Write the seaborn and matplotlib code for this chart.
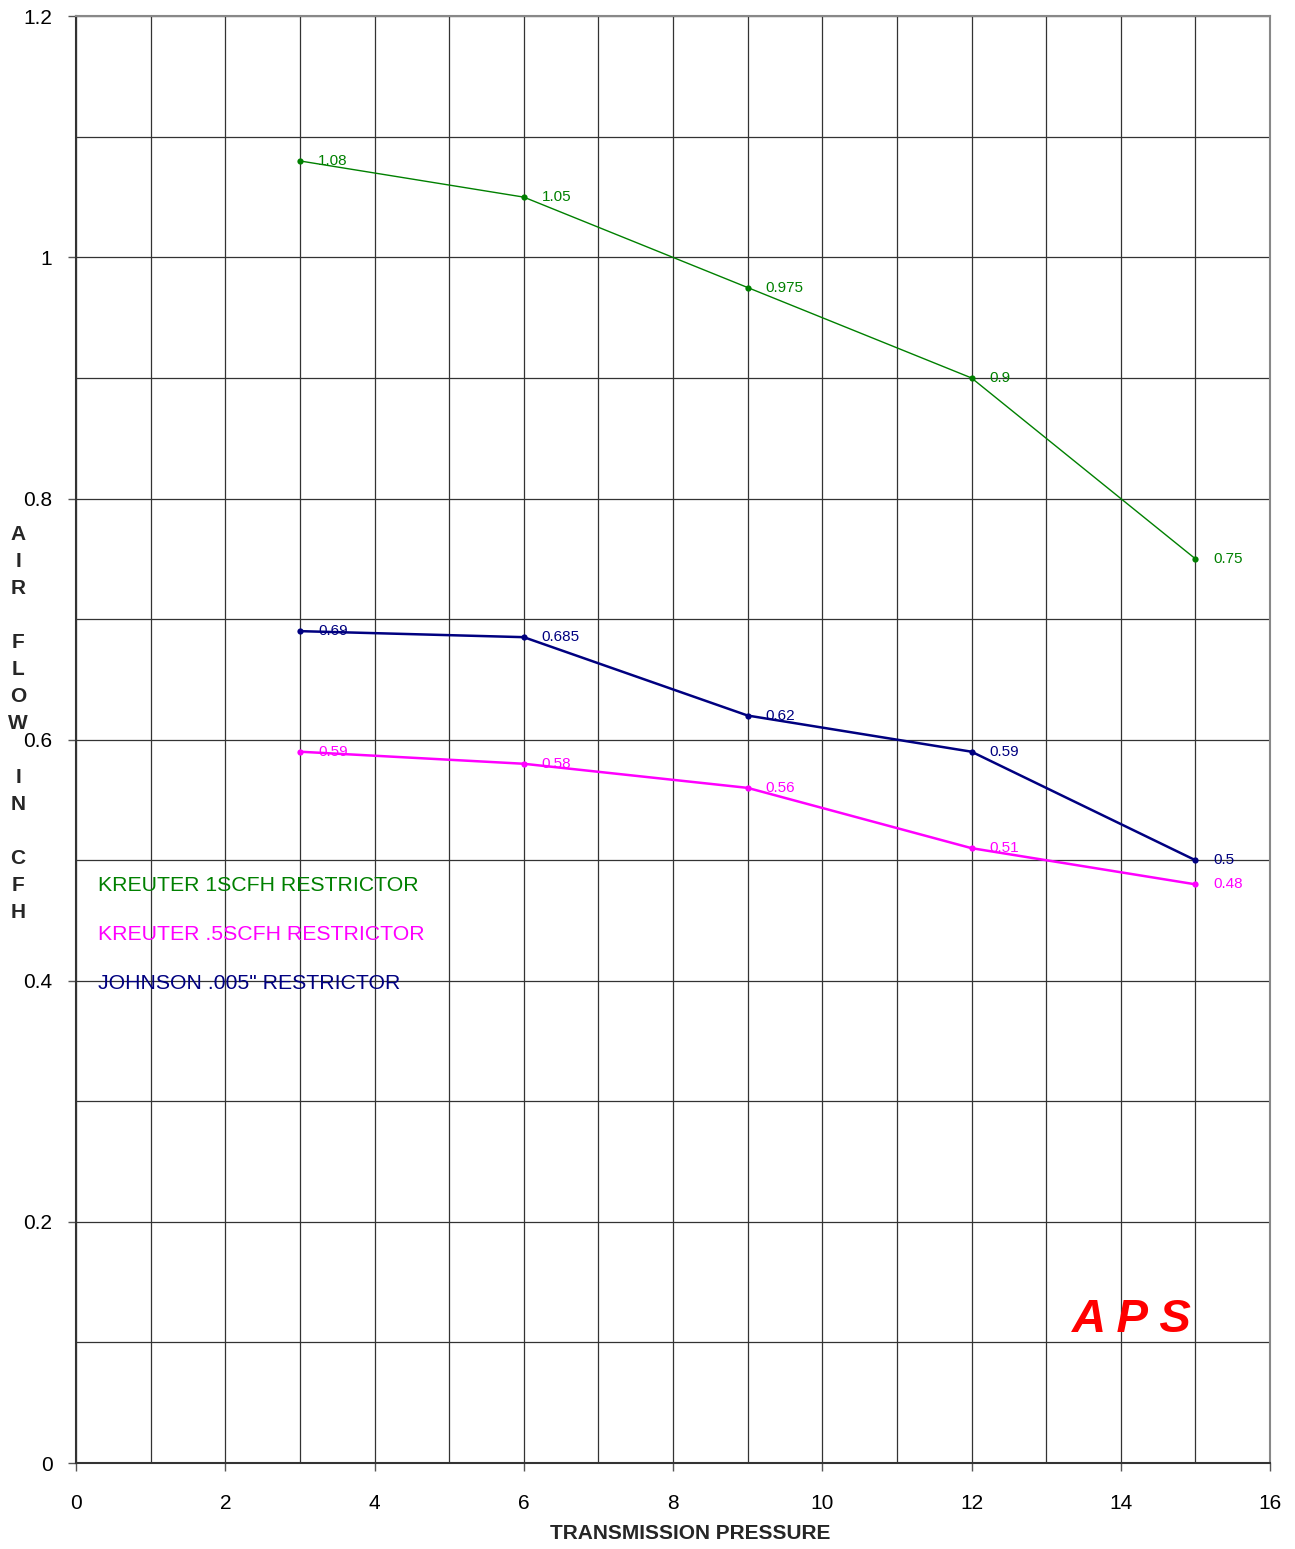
import pandas as pd
import numpy as np
import seaborn as sns
from matplotlib import pyplot as plt

sns.set_style("white")
plt.rcParams['font.family'] = ['Liberation Sans', 'DejaVu Sans']

# Data
pressure = [3, 6, 9, 12, 15]
kreuter_1 = [1.08, 1.05, 0.975, 0.9, 0.75]
kreuter_05 = [0.59, 0.58, 0.56, 0.51, 0.48]
johnson = [0.69, 0.685, 0.62, 0.59, 0.5]

series_names = ['KREUTER 1SCFH RESTRICTOR', 'KREUTER .5SCFH RESTRICTOR', 'JOHNSON .005" RESTRICTOR']
series_vals = [kreuter_1, kreuter_05, johnson]
colors = ['#008000', '#FF00FF', '#000080']
widths = [1.0, 1.8, 1.8]

df = pd.DataFrame({
    'pressure': pressure * 3,
    'flow': kreuter_1 + kreuter_05 + johnson,
    'series': np.repeat(series_names, len(pressure)),
})

fig = plt.figure(figsize=(12.95, 15.49), dpi=100)
ax = fig.add_axes([0.0587, 0.0555, 0.922, 0.934])

for name, vals, c, lw in zip(series_names, series_vals, colors, widths):
    sub = df[df.series == name]
    sns.lineplot(data=sub, x='pressure', y='flow', color=c, linewidth=lw,
                 marker='o', markersize=4.5, markeredgewidth=0, ax=ax, legend=False)
    for x, y in zip(pressure, vals):
        ax.annotate('{:g}'.format(y), (x, y), xytext=(13, 0), textcoords='offset points',
                    color=c, fontsize=11, va='center', ha='left')

ax.set_xlim(0, 16)
ax.set_ylim(0, 1.2)
ax.set_xticks(np.arange(0, 17, 2))
ax.set_yticks(np.arange(0, 1.21, 0.2))
ax.set_yticklabels(['0', '0.2', '0.4', '0.6', '0.8', '1', '1.2'])
ax.set_xticks(np.arange(0, 17, 1), minor=True)
ax.set_yticks(np.arange(0, 1.21, 0.1), minor=True)
ax.grid(True, which='both', color='#333333', linewidth=0.9)
ax.tick_params(axis='both', which='major', direction='out', length=6, width=1,
               labelsize=15, colors='#555555', labelcolor='black',
               bottom=True, left=True)
ax.tick_params(axis='both', which='minor', length=0)
ax.tick_params(axis='y', pad=11)
ax.tick_params(axis='x', pad=16)

for side in ['top', 'right']:
    ax.spines[side].set_color('#888888')
    ax.spines[side].set_linewidth(1.5)
for side in ['left', 'bottom']:
    ax.spines[side].set_color('#333333')
    ax.spines[side].set_linewidth(1.5)

ax.set_xlabel('TRANSMISSION PRESSURE', fontsize=15, fontweight='bold')
ax.xaxis.set_label_coords(0.514, -0.042)
ax.set_ylabel('')
fig.text(0.014, 0.533, 'A\nI\nR\n\nF\nL\nO\nW\n\nI\nN\n\nC\nF\nH', fontsize=15,
         fontweight='bold', ha='center', va='center', linespacing=1.53)

# series names as text labels
for i, (name, c) in enumerate(zip(series_names, colors)):
    ax.text(0.3, 0.4793 - i * 0.0406, name, color=c, fontsize=15.3, va='center', ha='left')

ax.text(14.95, 0.1, 'A P S', color='red', fontsize=34, fontweight='bold',
        fontstyle='italic', ha='right', va='bottom')

fig.savefig('out.png', dpi=100)
